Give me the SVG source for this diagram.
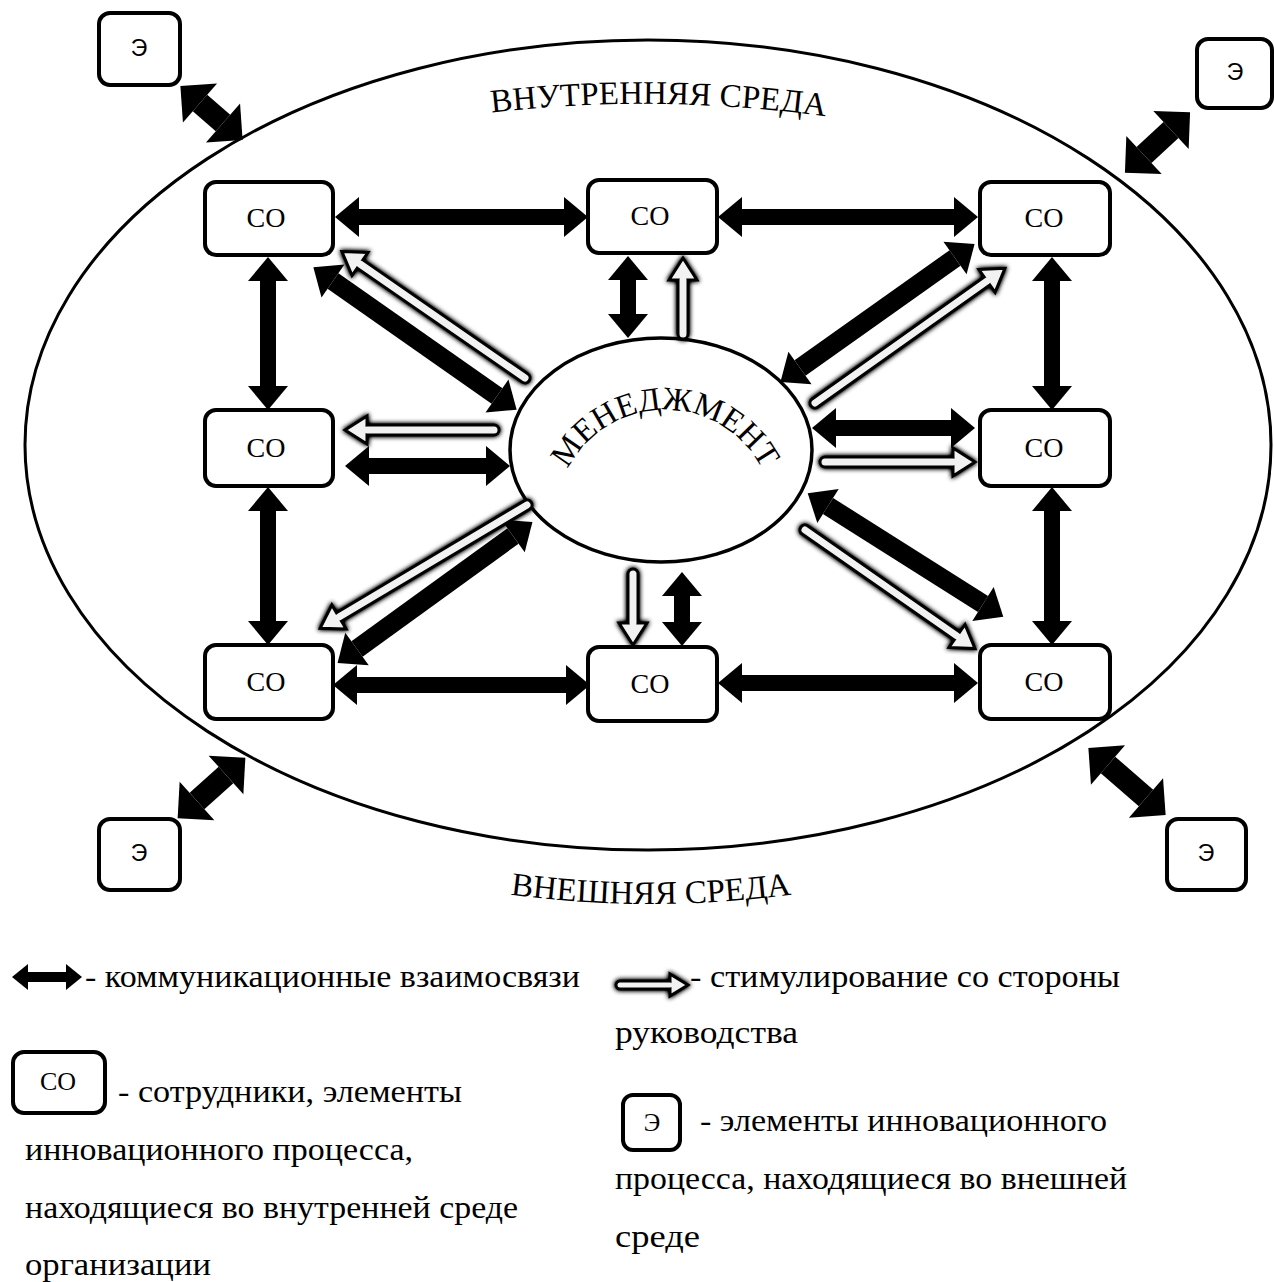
<svg xmlns="http://www.w3.org/2000/svg" width="1274" height="1282" viewBox="0 0 1274 1282">
<style>
.serif{font-family:"Liberation Serif","Times New Roman",serif;fill:#000}
.sans{font-family:"Liberation Sans",Arial,sans-serif;fill:#000}
.box{fill:#fff;stroke:#000;stroke-width:4}
.bk{stroke:#000;stroke-width:16;fill:none}
.bd{stroke:#000;stroke-width:19;fill:none}
.be{stroke:#000;stroke-width:22;fill:none}
.wo{stroke:#000;stroke-width:13;stroke-linecap:round;fill:none}
.wi{stroke:#f2f2f2;stroke-width:7;stroke-linecap:round;fill:none}
.lbl{font-size:28px;text-anchor:middle}
.elbl{font-size:23px;text-anchor:middle}
.leg{font-size:31px}
</style>
<defs>
<marker id="mb" markerUnits="userSpaceOnUse" orient="auto-start-reverse" refX="0" refY="0" markerWidth="60" markerHeight="60" overflow="visible"><path d="M0,-20 L24,0 L0,20 Z" fill="#000"/></marker>
<marker id="me" markerUnits="userSpaceOnUse" orient="auto-start-reverse" refX="0" refY="0" markerWidth="60" markerHeight="60" overflow="visible"><path d="M0,-26 L26,0 L0,26 Z" fill="#000"/></marker>
<marker id="ms" markerUnits="userSpaceOnUse" orient="auto-start-reverse" refX="0" refY="0" markerWidth="40" markerHeight="40" overflow="visible"><path d="M0,-13 L16,0 L0,13 Z" fill="#000"/></marker>
<marker id="mw" markerUnits="userSpaceOnUse" orient="auto" refX="0" refY="0" markerWidth="60" markerHeight="60" overflow="visible"><path d="M0,-14 L22,0 L0,14 Z" fill="#f2f2f2" stroke="#000" stroke-width="3"/></marker>
<marker id="mws" markerUnits="userSpaceOnUse" orient="auto" refX="0" refY="0" markerWidth="40" markerHeight="40" overflow="visible"><path d="M0,-11 L18,0 L0,11 Z" fill="#f2f2f2" stroke="#000" stroke-width="3"/></marker>
<filter id="glow" filterUnits="userSpaceOnUse" x="0" y="0" width="1274" height="1282">
<feGaussianBlur in="SourceAlpha" stdDeviation="2.5" result="b"/>
<feComponentTransfer in="b" result="c"><feFuncA type="linear" slope="1.5"/></feComponentTransfer>
<feMerge><feMergeNode in="c"/><feMergeNode in="SourceGraphic"/></feMerge>
</filter>
<path id="arcIn" d="M 479,114 Q 657,92 838,118"/>
<path id="arcOut" d="M 499,893 Q 650,915 803,893"/>
<path id="arcMgmt" d="M 556.4,509.5 A 109 109 0 0 1 773.6,509.5"/>
</defs>

<g id="environment">
<ellipse cx="648" cy="445" rx="623" ry="405" fill="none" stroke="#000" stroke-width="3"/>
<text class="serif" font-size="33"><textPath href="#arcIn" startOffset="50%" text-anchor="middle">ВНУТРЕННЯЯ СРЕДА</textPath></text>
<text class="serif" font-size="33"><textPath href="#arcOut" startOffset="50%" text-anchor="middle">ВНЕШНЯЯ СРЕДА</textPath></text>
</g>

<g id="management">
<ellipse cx="661" cy="450" rx="151" ry="112" fill="#fff" stroke="#000" stroke-width="3.5"/>
<text class="serif" font-size="33"><textPath href="#arcMgmt" startOffset="50%" text-anchor="middle">МЕНЕДЖМЕНТ</textPath></text>
</g>

<g id="connectors">
<line class="bk" x1="359" y1="217" x2="564" y2="217" marker-start="url(#mb)" marker-end="url(#mb)"/>
<line class="bk" x1="742" y1="217" x2="954" y2="217" marker-start="url(#mb)" marker-end="url(#mb)"/>
<line class="bk" x1="357" y1="685" x2="566" y2="685" marker-start="url(#mb)" marker-end="url(#mb)"/>
<line class="bk" x1="742" y1="683" x2="954" y2="683" marker-start="url(#mb)" marker-end="url(#mb)"/>
<line class="bk" x1="268" y1="281" x2="268" y2="386" marker-start="url(#mb)" marker-end="url(#mb)"/>
<line class="bk" x1="268" y1="511" x2="268" y2="621" marker-start="url(#mb)" marker-end="url(#mb)"/>
<line class="bk" x1="1052" y1="281" x2="1052" y2="386" marker-start="url(#mb)" marker-end="url(#mb)"/>
<line class="bk" x1="1052" y1="511" x2="1052" y2="621" marker-start="url(#mb)" marker-end="url(#mb)"/>
<line class="bk" x1="628" y1="280" x2="628" y2="314" marker-start="url(#mb)" marker-end="url(#mb)"/>
<line class="bk" x1="682" y1="596" x2="682" y2="622" marker-start="url(#mb)" marker-end="url(#mb)"/>
<line class="bk" x1="369" y1="466" x2="486" y2="466" marker-start="url(#mb)" marker-end="url(#mb)"/>
<line class="bk" x1="836" y1="428" x2="951" y2="428" marker-start="url(#mb)" marker-end="url(#mb)"/>
<line class="bd" x1="333" y1="281" x2="497" y2="396" marker-start="url(#mb)" marker-end="url(#mb)"/>
<line class="bd" x1="955" y1="258" x2="800" y2="368" marker-start="url(#mb)" marker-end="url(#mb)"/>
<line class="bd" x1="513" y1="536" x2="357" y2="649" marker-start="url(#mb)" marker-end="url(#mb)"/>
<line class="bd" x1="828" y1="506" x2="983" y2="604" marker-start="url(#mb)" marker-end="url(#mb)"/>
<line class="be" x1="200" y1="103" x2="223" y2="123" marker-start="url(#me)" marker-end="url(#me)"/>
<line class="be" x1="1171" y1="130" x2="1144" y2="155" marker-start="url(#me)" marker-end="url(#me)"/>
<line class="be" x1="226" y1="775" x2="197" y2="801" marker-start="url(#me)" marker-end="url(#me)"/>
<line class="be" x1="1108" y1="765" x2="1146" y2="798" marker-start="url(#me)" marker-end="url(#me)"/>
<g filter="url(#glow)">
<line class="wo" x1="525" y1="378" x2="360" y2="264" marker-end="url(#mw)"/><line class="wi" x1="525" y1="378" x2="360" y2="264"/>
<line class="wo" x1="683" y1="334" x2="683" y2="280" marker-end="url(#mw)"/><line class="wi" x1="683" y1="334" x2="683" y2="280"/>
<line class="wo" x1="815" y1="403" x2="987" y2="281" marker-end="url(#mw)"/><line class="wi" x1="815" y1="403" x2="987" y2="281"/>
<line class="wo" x1="494" y1="430" x2="367" y2="430" marker-end="url(#mw)"/><line class="wi" x1="494" y1="430" x2="367" y2="430"/>
<line class="wo" x1="825" y1="462" x2="953" y2="462" marker-end="url(#mw)"/><line class="wi" x1="825" y1="462" x2="953" y2="462"/>
<line class="wo" x1="527" y1="505" x2="339" y2="617" marker-end="url(#mw)"/><line class="wi" x1="527" y1="505" x2="339" y2="617"/>
<line class="wo" x1="633" y1="574" x2="633" y2="623" marker-end="url(#mw)"/><line class="wi" x1="633" y1="574" x2="633" y2="623"/>
<line class="wo" x1="805" y1="530" x2="957" y2="636" marker-end="url(#mw)"/><line class="wi" x1="805" y1="530" x2="957" y2="636"/>
</g>
</g>

<g id="co-top-left"><rect class="box" x="205" y="182" width="128" height="73" rx="11"/><text class="serif lbl" x="266" y="227">СО</text></g>
<g id="co-top-mid"><rect class="box" x="588" y="180" width="129" height="73" rx="11"/><text class="serif lbl" x="650" y="225">СО</text></g>
<g id="co-top-right"><rect class="box" x="980" y="182" width="130" height="73" rx="11"/><text class="serif lbl" x="1044" y="227">СО</text></g>
<g id="co-mid-left"><rect class="box" x="205" y="410" width="128" height="76" rx="11"/><text class="serif lbl" x="266" y="457">СО</text></g>
<g id="co-mid-right"><rect class="box" x="980" y="410" width="130" height="76" rx="11"/><text class="serif lbl" x="1044" y="457">СО</text></g>
<g id="co-bottom-left"><rect class="box" x="205" y="645" width="128" height="74" rx="11"/><text class="serif lbl" x="266" y="691">СО</text></g>
<g id="co-bottom-mid"><rect class="box" x="588" y="647" width="129" height="74" rx="11"/><text class="serif lbl" x="650" y="693">СО</text></g>
<g id="co-bottom-right"><rect class="box" x="980" y="645" width="130" height="74" rx="11"/><text class="serif lbl" x="1044" y="691">СО</text></g>

<g id="e-top-left"><rect class="box" x="99" y="13" width="81" height="72" rx="11"/><text class="sans elbl" x="139" y="56">Э</text></g>
<g id="e-top-right"><rect class="box" x="1197" y="39" width="75" height="69" rx="11"/><text class="sans elbl" x="1235" y="80">Э</text></g>
<g id="e-bottom-left"><rect class="box" x="99" y="819" width="81" height="71" rx="11"/><text class="sans elbl" x="139" y="861">Э</text></g>
<g id="e-bottom-right"><rect class="box" x="1167" y="819" width="79" height="71" rx="11"/><text class="sans elbl" x="1206" y="861">Э</text></g>

<g id="legend">
<line stroke="#000" stroke-width="10" x1="28" y1="977" x2="66" y2="977" marker-start="url(#ms)" marker-end="url(#ms)"/>
<text class="serif leg" x="85" y="987" textLength="495" lengthAdjust="spacingAndGlyphs">- коммуникационные взаимосвязи</text>
<g filter="url(#glow)">
<line stroke="#000" stroke-width="11" stroke-linecap="round" x1="620" y1="985" x2="670" y2="985" marker-end="url(#mws)"/>
<line stroke="#f2f2f2" stroke-width="5" stroke-linecap="round" x1="620" y1="985" x2="670" y2="985"/>
</g>
<text class="serif leg" x="690" y="987" textLength="430" lengthAdjust="spacingAndGlyphs">- стимулирование со стороны</text>
<text class="serif leg" x="615" y="1043" textLength="183" lengthAdjust="spacingAndGlyphs">руководства</text>
<rect class="box" x="13" y="1052" width="92" height="61" rx="11"/>
<text class="serif" font-size="26" text-anchor="middle" x="58" y="1090">СО</text>
<text class="serif leg" x="118" y="1102" textLength="344" lengthAdjust="spacingAndGlyphs">- сотрудники, элементы</text>
<text class="serif leg" x="25" y="1160" textLength="388" lengthAdjust="spacingAndGlyphs">инновационного процесса,</text>
<text class="serif leg" x="25" y="1218" textLength="493" lengthAdjust="spacingAndGlyphs">находящиеся во внутренней среде</text>
<text class="serif leg" x="25" y="1275" textLength="186" lengthAdjust="spacingAndGlyphs">организации</text>
<rect class="box" x="623" y="1095" width="57" height="55" rx="10"/>
<text class="serif" font-size="25" text-anchor="middle" x="652" y="1131">Э</text>
<text class="serif leg" x="700" y="1131" textLength="407" lengthAdjust="spacingAndGlyphs">- элементы инновационного</text>
<text class="serif leg" x="615" y="1189" textLength="512" lengthAdjust="spacingAndGlyphs">процесса, находящиеся во внешней</text>
<text class="serif leg" x="615" y="1247" textLength="85" lengthAdjust="spacingAndGlyphs">среде</text>
</g>
</svg>
